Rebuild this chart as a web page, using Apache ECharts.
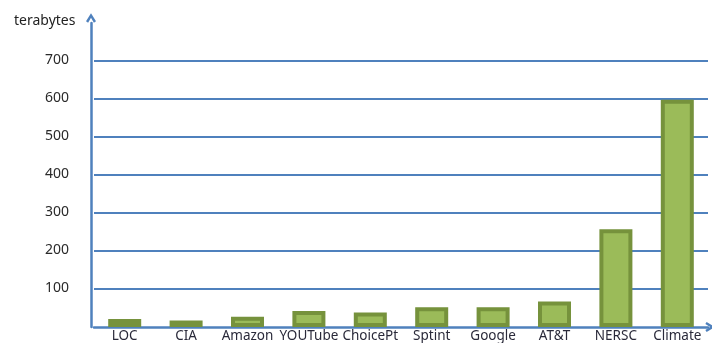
<!DOCTYPE html>
<html>
<head>
<meta charset="utf-8">
<script src="https://cdn.jsdelivr.net/npm/echarts@6/dist/echarts.min.js"></script>
<style>html,body{margin:0;padding:0;background:#fff}#c{width:712px;height:343px}</style>
</head>
<body>
<div id="c"></div>
<script>
var categories = ['LOC', 'CIA', 'Amazon', 'YOUTube', 'ChoicePt', 'Sptint', 'Google', 'AT&T', 'NERSC', 'Climate'];
var terabytes = [21, 17, 27, 42, 38, 52, 52, 67, 257, 598];
var yTicks = [0, 100, 200, 300, 400, 500, 600, 700];

var chart = echarts.init(document.getElementById('c'));
var blue = '#4F81BD';
var font = 'Noto Sans';
var chevron = 'path://M0,8 L5,0 L10,8 L7.9,9.3 L5,4.5 L2.1,9.3 Z';
chart.setOption({
  animation: false,
  title: {
    text: 'terabytes', left: 9, top: 9,
    textStyle: { fontFamily: font, fontSize: 14, fontWeight: 'normal', color: '#222' }
  },
  grid: { left: 94, right: 4, top: 23, bottom: 16 },
  xAxis: {
    type: 'category',
    data: categories,
    axisLine: { show: true, lineStyle: { color: blue, width: 2.5 }, symbol: ['none', chevron], symbolSize: [10, 10], symbolOffset: [0, 2] },
    axisTick: { show: false },
    axisLabel: { margin: 2, fontFamily: font, fontSize: 13.5, color: '#2a2a3a', interval: 0 }
  },
  yAxis: {
    type: 'value',
    min: 0, max: 800, interval: 100,
    offset: 3,
    axisLine: { show: true, lineStyle: { color: blue, width: 2.5 }, symbol: ['none', chevron], symbolSize: [10, 10], symbolOffset: [0, 5] },
    axisTick: { show: false },
    axisLabel: {
      margin: 22, fontFamily: font, fontSize: 14, color: '#2a2a2a',
      showMinLabel: false, showMaxLabel: false, verticalAlign: 'bottom', padding: [0, 0, -6, 0],
      formatter: function (v) { return yTicks.indexOf(v) >= 0 && v > 0 ? String(v) : ''; }
    },
    splitLine: { show: true, showMinLine: false, showMaxLine: false, lineStyle: { color: blue, width: 2 } }
  },
  series: [{
    type: 'bar',
    data: terabytes,
    barWidth: 33,
    itemStyle: { color: '#9BBB59', borderColor: '#76923C', borderWidth: 4 }
  }]
});
</script>
</body>
</html>
